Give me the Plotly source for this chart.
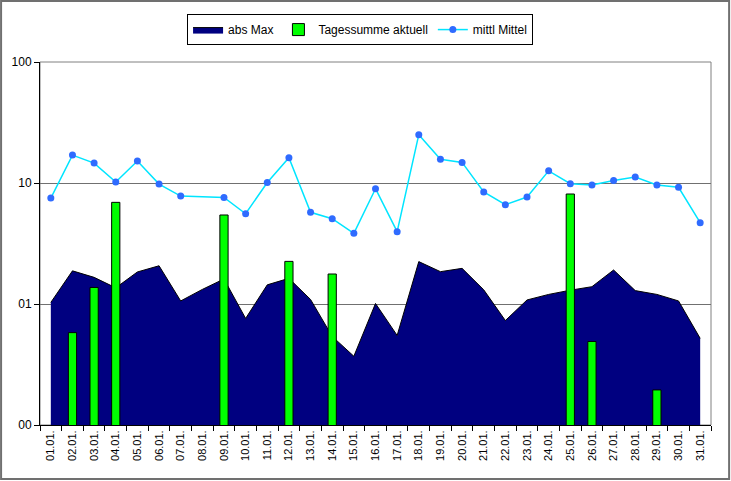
import plotly.graph_objects as go

days = [f"{d:02d}.01." for d in range(1, 32)]

abs_max = [1.03, 1.88, 1.66, 1.36, 1.84, 2.07, 1.06, 1.32, 1.61, 0.76,
           1.44, 1.63, 1.09, 0.54, 0.37, 1.01, 0.55, 2.24, 1.85, 1.97,
           1.31, 0.73, 1.08, 1.20, 1.30, 1.39, 1.91, 1.29, 1.20, 1.06, 0.52]

tagessumme = [None, 0.58, 1.37, 6.92, None, None, None, None, 5.44, None,
              None, 2.25, None, 1.77, None, None, None, None, None, None,
              None, None, None, None, 8.11, 0.49, None, None, 0.195, None, None]

mittl = [7.5, 17.0, 14.6, 10.2, 15.2, 9.8, 7.8, None, 7.6, 5.57,
         10.1, 16.2, 5.73, 5.07, 3.84, 8.97, 3.96, 25.1, 15.7, 14.8,
         8.43, 6.62, 7.66, 12.6, 9.87, 9.62, 10.5, 11.2, 9.62, 9.21, 4.70]

y_min = 0.1
tick_vals = [0.1, 1, 10, 100]
tick_text = ["00", "01", "10", "100"]

fig = go.Figure()

fig.add_trace(go.Scatter(x=days, y=[y_min] * len(days), mode="lines",
                         line=dict(width=0), showlegend=False, hoverinfo="skip"))
fig.add_trace(go.Scatter(x=days, y=abs_max, name="abs Max", mode="lines",
                         fill="tonexty", fillcolor="#000080",
                         line=dict(color="black", width=1)))
fig.add_trace(go.Bar(x=days, y=tagessumme, name="Tagessumme aktuell",
                     marker=dict(color="#00FF00", line=dict(color="black", width=1)),
                     width=0.38, yaxis="y2"))
fig.add_trace(go.Scatter(x=days, y=mittl, name="mittl Mittel", mode="lines+markers",
                         connectgaps=True, yaxis="y2",
                         line=dict(color="#00E5FF", width=1.5),
                         marker=dict(color="#2F6BFF", size=7)))

yax = dict(type="log", range=[-1, 2], tickvals=tick_vals, ticktext=tick_text,
           showgrid=True, gridcolor="#707070", gridwidth=1,
           showline=True, linecolor="black", linewidth=1,
           ticks="outside", ticklen=5, tickcolor="black",
           tickfont=dict(size=12, color="black"), zeroline=False)

fig.update_layout(
    width=731, height=481,
    margin=dict(l=40, r=20, t=62, b=56),
    paper_bgcolor="white", plot_bgcolor="white",
    font=dict(family="Liberation Sans, Arial, sans-serif", color="black"),
    barmode="overlay",
    showlegend=True,
    legend=dict(orientation="h", x=0.477, xanchor="center", y=1.132, yanchor="top",
                bordercolor="black", borderwidth=1, font=dict(size=12),
                traceorder="normal"),
    xaxis=dict(type="category", range=[-0.5, 30.5], tickangle=-90,
               tickson="boundaries", ticks="outside", ticklen=5, tickcolor="black",
               showline=True, linecolor="black", linewidth=1, showgrid=False,
               tickfont=dict(size=11, color="black")),
    yaxis=yax,
    yaxis2=dict(type="log", range=[-1, 2], overlaying="y", visible=False),
    shapes=[
        dict(type="rect", xref="paper", yref="paper", x0=0, x1=1, y0=0, y1=1,
             line=dict(color="#808080", width=1), layer="below"),
        dict(type="rect", xref="paper", yref="paper",
             x0=-0.058, x1=1.027, y0=-0.149, y1=1.168,
             line=dict(color="#707070", width=2)),
    ],
)

fig.write_html("out.html",
               config={"displayModeBar": False},
               post_script="document.body.style.margin='0';document.body.style.overflow='hidden';")
